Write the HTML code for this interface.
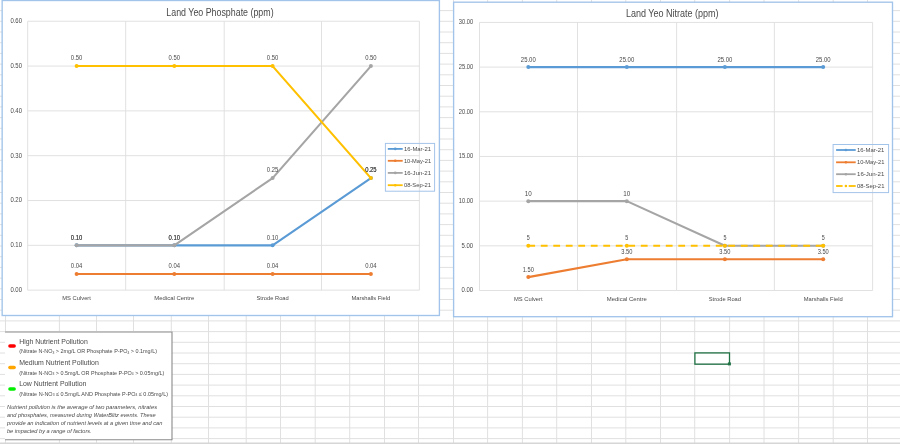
<!DOCTYPE html><html><head><meta charset="utf-8"><style>html,body{margin:0;padding:0;background:#fff;width:900px;height:444px;overflow:hidden}svg{display:block}text{font-family:"Liberation Sans",sans-serif}</style></head><body><svg style="will-change:transform" width="900" height="444" viewBox="0 0 900 444"><g stroke="#e0e0e0" stroke-width="1"><line x1="5.5" y1="0" x2="5.5" y2="443" /><line x1="59.4" y1="0" x2="59.4" y2="443" /><line x1="96.5" y1="0" x2="96.5" y2="443" /><line x1="133.5" y1="0" x2="133.5" y2="443" /><line x1="171.3" y1="0" x2="171.3" y2="443" /><line x1="208.5" y1="0" x2="208.5" y2="443" /><line x1="246.2" y1="0" x2="246.2" y2="443" /><line x1="280.5" y1="0" x2="280.5" y2="443" /><line x1="315.2" y1="0" x2="315.2" y2="443" /><line x1="349.7" y1="0" x2="349.7" y2="443" /><line x1="384.5" y1="0" x2="384.5" y2="443" /><line x1="418.5" y1="0" x2="418.5" y2="443" /><line x1="453.5" y1="0" x2="453.5" y2="443" /><line x1="487.6" y1="0" x2="487.6" y2="443" /><line x1="522.4" y1="0" x2="522.4" y2="443" /><line x1="556.7" y1="0" x2="556.7" y2="443" /><line x1="591.5" y1="0" x2="591.5" y2="443" /><line x1="625.8" y1="0" x2="625.8" y2="443" /><line x1="660.5" y1="0" x2="660.5" y2="443" /><line x1="694.7" y1="0" x2="694.7" y2="443" /><line x1="729.6" y1="0" x2="729.6" y2="443" /><line x1="764.0" y1="0" x2="764.0" y2="443" /><line x1="798.6" y1="0" x2="798.6" y2="443" /><line x1="833.2" y1="0" x2="833.2" y2="443" /><line x1="867.5" y1="0" x2="867.5" y2="443" /><line x1="0" y1="10.6" x2="900" y2="10.6" /><line x1="0" y1="21.3" x2="900" y2="21.3" /><line x1="0" y1="32.0" x2="900" y2="32.0" /><line x1="0" y1="42.7" x2="900" y2="42.7" /><line x1="0" y1="53.4" x2="900" y2="53.4" /><line x1="0" y1="64.1" x2="900" y2="64.1" /><line x1="0" y1="74.8" x2="900" y2="74.8" /><line x1="0" y1="85.5" x2="900" y2="85.5" /><line x1="0" y1="96.2" x2="900" y2="96.2" /><line x1="0" y1="106.9" x2="900" y2="106.9" /><line x1="0" y1="117.6" x2="900" y2="117.6" /><line x1="0" y1="128.3" x2="900" y2="128.3" /><line x1="0" y1="139.0" x2="900" y2="139.0" /><line x1="0" y1="149.7" x2="900" y2="149.7" /><line x1="0" y1="160.4" x2="900" y2="160.4" /><line x1="0" y1="171.1" x2="900" y2="171.1" /><line x1="0" y1="181.8" x2="900" y2="181.8" /><line x1="0" y1="192.5" x2="900" y2="192.5" /><line x1="0" y1="203.2" x2="900" y2="203.2" /><line x1="0" y1="213.9" x2="900" y2="213.9" /><line x1="0" y1="224.6" x2="900" y2="224.6" /><line x1="0" y1="235.3" x2="900" y2="235.3" /><line x1="0" y1="246.0" x2="900" y2="246.0" /><line x1="0" y1="256.7" x2="900" y2="256.7" /><line x1="0" y1="267.4" x2="900" y2="267.4" /><line x1="0" y1="278.1" x2="900" y2="278.1" /><line x1="0" y1="288.8" x2="900" y2="288.8" /><line x1="0" y1="299.5" x2="900" y2="299.5" /><line x1="0" y1="310.2" x2="900" y2="310.2" /><line x1="0" y1="320.9" x2="900" y2="320.9" /><line x1="0" y1="331.6" x2="900" y2="331.6" /><line x1="0" y1="342.3" x2="900" y2="342.3" /><line x1="0" y1="353.0" x2="900" y2="353.0" /><line x1="0" y1="363.7" x2="900" y2="363.7" /><line x1="0" y1="374.4" x2="900" y2="374.4" /><line x1="0" y1="385.1" x2="900" y2="385.1" /><line x1="0" y1="395.8" x2="900" y2="395.8" /><line x1="0" y1="406.5" x2="900" y2="406.5" /><line x1="0" y1="417.2" x2="900" y2="417.2" /><line x1="0" y1="427.9" x2="900" y2="427.9" /><line x1="0" y1="438.6" x2="900" y2="438.6" /></g><rect x="0" y="442.5" width="900" height="1.5" fill="#d6d6d6"/><rect x="2.15" y="0.5" width="437.25" height="315.00" fill="#fff" stroke="#A3C4EA" stroke-width="1.35"/><g stroke="#dedede" stroke-width="0.9"><line x1="27.7" y1="290.15" x2="419.4" y2="290.15"/><line x1="27.7" y1="245.33" x2="419.4" y2="245.33"/><line x1="27.7" y1="200.52" x2="419.4" y2="200.52"/><line x1="27.7" y1="155.70" x2="419.4" y2="155.70"/><line x1="27.7" y1="110.88" x2="419.4" y2="110.88"/><line x1="27.7" y1="66.07" x2="419.4" y2="66.07"/><line x1="27.7" y1="21.25" x2="419.4" y2="21.25"/><line x1="27.70" y1="21.25" x2="27.70" y2="290.15"/><line x1="125.70" y1="21.25" x2="125.70" y2="290.15"/><line x1="224.20" y1="21.25" x2="224.20" y2="290.15"/><line x1="321.50" y1="21.25" x2="321.50" y2="290.15"/><line x1="419.40" y1="21.25" x2="419.40" y2="290.15"/></g><text x="22.00" y="292.00" font-size="6.9" text-anchor="end" fill="#4a4a4a" textLength="11.6" lengthAdjust="spacingAndGlyphs" >0.00</text><text x="22.00" y="247.18" font-size="6.9" text-anchor="end" fill="#4a4a4a" textLength="11.6" lengthAdjust="spacingAndGlyphs" >0.10</text><text x="22.00" y="202.37" font-size="6.9" text-anchor="end" fill="#4a4a4a" textLength="11.6" lengthAdjust="spacingAndGlyphs" >0.20</text><text x="22.00" y="157.55" font-size="6.9" text-anchor="end" fill="#4a4a4a" textLength="11.6" lengthAdjust="spacingAndGlyphs" >0.30</text><text x="22.00" y="112.73" font-size="6.9" text-anchor="end" fill="#4a4a4a" textLength="11.6" lengthAdjust="spacingAndGlyphs" >0.40</text><text x="22.00" y="67.92" font-size="6.9" text-anchor="end" fill="#4a4a4a" textLength="11.6" lengthAdjust="spacingAndGlyphs" >0.50</text><text x="22.00" y="23.10" font-size="6.9" text-anchor="end" fill="#4a4a4a" textLength="11.6" lengthAdjust="spacingAndGlyphs" >0.60</text><text x="219.95" y="15.90" font-size="10.2" text-anchor="middle" fill="#4a4a4a" textLength="107.30000000000001" lengthAdjust="spacingAndGlyphs" >Land Yeo Phosphate (ppm)</text><text x="76.60" y="300.20" font-size="6.1" text-anchor="middle" fill="#4a4a4a" textLength="28.6" lengthAdjust="spacingAndGlyphs" >MS Culvert</text><text x="174.30" y="300.20" font-size="6.1" text-anchor="middle" fill="#4a4a4a" textLength="40" lengthAdjust="spacingAndGlyphs" >Medical Centre</text><text x="272.60" y="300.20" font-size="6.1" text-anchor="middle" fill="#4a4a4a" textLength="32.2" lengthAdjust="spacingAndGlyphs" >Strode Road</text><text x="370.90" y="300.20" font-size="6.1" text-anchor="middle" fill="#4a4a4a" textLength="38.9" lengthAdjust="spacingAndGlyphs" >Marshalls Field</text><polyline points="76.60,245.33 174.30,245.33 272.60,245.33 370.90,178.11" fill="none" stroke="#5B9BD5" stroke-width="2.1" stroke-linejoin="round"/><circle cx="76.60" cy="245.33" r="2" fill="#5B9BD5"/><circle cx="174.30" cy="245.33" r="2" fill="#5B9BD5"/><circle cx="272.60" cy="245.33" r="2" fill="#5B9BD5"/><circle cx="370.90" cy="178.11" r="2" fill="#5B9BD5"/><polyline points="76.60,273.93 174.30,273.93 272.60,273.93 370.90,273.93" fill="none" stroke="#ED7D31" stroke-width="2.1" stroke-linejoin="round"/><circle cx="76.60" cy="273.93" r="2" fill="#ED7D31"/><circle cx="174.30" cy="273.93" r="2" fill="#ED7D31"/><circle cx="272.60" cy="273.93" r="2" fill="#ED7D31"/><circle cx="370.90" cy="273.93" r="2" fill="#ED7D31"/><polyline points="76.60,245.33 174.30,245.33 272.60,178.11 370.90,66.07" fill="none" stroke="#A5A5A5" stroke-width="2.1" stroke-linejoin="round"/><circle cx="76.60" cy="245.33" r="2" fill="#A5A5A5"/><circle cx="174.30" cy="245.33" r="2" fill="#A5A5A5"/><circle cx="272.60" cy="178.11" r="2" fill="#A5A5A5"/><circle cx="370.90" cy="66.07" r="2" fill="#A5A5A5"/><polyline points="76.60,66.07 174.30,66.07 272.60,66.07 370.90,178.11" fill="none" stroke="#FFC000" stroke-width="2.1" stroke-linejoin="round"/><circle cx="76.60" cy="66.07" r="2" fill="#FFC000"/><circle cx="174.30" cy="66.07" r="2" fill="#FFC000"/><circle cx="272.60" cy="66.07" r="2" fill="#FFC000"/><circle cx="370.90" cy="178.11" r="2" fill="#FFC000"/><text x="76.60" y="239.63" font-size="6.3" text-anchor="middle" fill="#4a4a4a" textLength="11.5" lengthAdjust="spacingAndGlyphs" >0.10</text><text x="174.30" y="239.63" font-size="6.3" text-anchor="middle" fill="#4a4a4a" textLength="11.5" lengthAdjust="spacingAndGlyphs" >0.10</text><text x="272.60" y="239.63" font-size="6.3" text-anchor="middle" fill="#4a4a4a" textLength="11.5" lengthAdjust="spacingAndGlyphs" >0.10</text><text x="370.90" y="172.41" font-size="6.3" text-anchor="middle" fill="#4a4a4a" textLength="11.5" lengthAdjust="spacingAndGlyphs" >0.25</text><text x="76.60" y="268.23" font-size="6.3" text-anchor="middle" fill="#4a4a4a" textLength="11.5" lengthAdjust="spacingAndGlyphs" >0.04</text><text x="174.30" y="268.23" font-size="6.3" text-anchor="middle" fill="#4a4a4a" textLength="11.5" lengthAdjust="spacingAndGlyphs" >0.04</text><text x="272.60" y="268.23" font-size="6.3" text-anchor="middle" fill="#4a4a4a" textLength="11.5" lengthAdjust="spacingAndGlyphs" >0.04</text><text x="370.90" y="268.23" font-size="6.3" text-anchor="middle" fill="#4a4a4a" textLength="11.5" lengthAdjust="spacingAndGlyphs" >0.04</text><text x="76.60" y="239.63" font-size="6.3" text-anchor="middle" fill="#4a4a4a" textLength="11.5" lengthAdjust="spacingAndGlyphs" >0.10</text><text x="174.30" y="239.63" font-size="6.3" text-anchor="middle" fill="#4a4a4a" textLength="11.5" lengthAdjust="spacingAndGlyphs" >0.10</text><text x="272.60" y="172.41" font-size="6.3" text-anchor="middle" fill="#4a4a4a" textLength="11.5" lengthAdjust="spacingAndGlyphs" >0.25</text><text x="370.90" y="60.37" font-size="6.3" text-anchor="middle" fill="#4a4a4a" textLength="11.5" lengthAdjust="spacingAndGlyphs" >0.50</text><text x="76.60" y="60.37" font-size="6.3" text-anchor="middle" fill="#4a4a4a" textLength="11.5" lengthAdjust="spacingAndGlyphs" >0.50</text><text x="174.30" y="60.37" font-size="6.3" text-anchor="middle" fill="#4a4a4a" textLength="11.5" lengthAdjust="spacingAndGlyphs" >0.50</text><text x="272.60" y="60.37" font-size="6.3" text-anchor="middle" fill="#4a4a4a" textLength="11.5" lengthAdjust="spacingAndGlyphs" >0.50</text><text x="370.90" y="172.41" font-size="6.3" text-anchor="middle" fill="#4a4a4a" textLength="11.5" lengthAdjust="spacingAndGlyphs" >0.25</text><rect x="385.4" y="143.4" width="49.20" height="47.80" fill="none" stroke="#A3C4EA" stroke-width="1"/><line x1="387.8" y1="148.9" x2="402.7" y2="148.9" stroke="#5B9BD5" stroke-width="1.8"/><circle cx="395.25" cy="148.9" r="1.3" fill="#5B9BD5"/><text x="403.90" y="150.90" font-size="6.0" text-anchor="start" fill="#4a4a4a" textLength="27.2" lengthAdjust="spacingAndGlyphs" >16-Mar-21</text><line x1="387.8" y1="160.8" x2="402.7" y2="160.8" stroke="#ED7D31" stroke-width="1.8"/><circle cx="395.25" cy="160.8" r="1.3" fill="#ED7D31"/><text x="403.90" y="162.80" font-size="6.0" text-anchor="start" fill="#4a4a4a" textLength="27.2" lengthAdjust="spacingAndGlyphs" >10-May-21</text><line x1="387.8" y1="172.9" x2="402.7" y2="172.9" stroke="#A5A5A5" stroke-width="1.8"/><circle cx="395.25" cy="172.9" r="1.3" fill="#A5A5A5"/><text x="403.90" y="174.90" font-size="6.0" text-anchor="start" fill="#4a4a4a" textLength="27.2" lengthAdjust="spacingAndGlyphs" >16-Jun-21</text><line x1="387.8" y1="185.2" x2="402.7" y2="185.2" stroke="#FFC000" stroke-width="1.8"/><circle cx="395.25" cy="185.2" r="1.3" fill="#FFC000"/><text x="403.90" y="187.20" font-size="6.0" text-anchor="start" fill="#4a4a4a" textLength="27.2" lengthAdjust="spacingAndGlyphs" >08-Sep-21</text><rect x="453.6" y="2.2" width="438.90" height="314.50" fill="#fff" stroke="#A3C4EA" stroke-width="1.35"/><g stroke="#dedede" stroke-width="0.9"><line x1="479.5" y1="290.50" x2="872.6" y2="290.50"/><line x1="479.5" y1="245.82" x2="872.6" y2="245.82"/><line x1="479.5" y1="201.15" x2="872.6" y2="201.15"/><line x1="479.5" y1="156.47" x2="872.6" y2="156.47"/><line x1="479.5" y1="111.80" x2="872.6" y2="111.80"/><line x1="479.5" y1="67.12" x2="872.6" y2="67.12"/><line x1="479.5" y1="22.45" x2="872.6" y2="22.45"/><line x1="479.50" y1="22.45" x2="479.50" y2="290.5"/><line x1="577.50" y1="22.45" x2="577.50" y2="290.5"/><line x1="676.60" y1="22.45" x2="676.60" y2="290.5"/><line x1="774.40" y1="22.45" x2="774.40" y2="290.5"/><line x1="872.60" y1="22.45" x2="872.60" y2="290.5"/></g><text x="473.20" y="292.35" font-size="6.9" text-anchor="end" fill="#4a4a4a" textLength="11.6" lengthAdjust="spacingAndGlyphs" >0.00</text><text x="473.20" y="247.67" font-size="6.9" text-anchor="end" fill="#4a4a4a" textLength="11.6" lengthAdjust="spacingAndGlyphs" >5.00</text><text x="473.20" y="203.00" font-size="6.9" text-anchor="end" fill="#4a4a4a" textLength="14.4" lengthAdjust="spacingAndGlyphs" >10.00</text><text x="473.20" y="158.32" font-size="6.9" text-anchor="end" fill="#4a4a4a" textLength="14.4" lengthAdjust="spacingAndGlyphs" >15.00</text><text x="473.20" y="113.65" font-size="6.9" text-anchor="end" fill="#4a4a4a" textLength="14.4" lengthAdjust="spacingAndGlyphs" >20.00</text><text x="473.20" y="68.97" font-size="6.9" text-anchor="end" fill="#4a4a4a" textLength="14.4" lengthAdjust="spacingAndGlyphs" >25.00</text><text x="473.20" y="24.30" font-size="6.9" text-anchor="end" fill="#4a4a4a" textLength="14.4" lengthAdjust="spacingAndGlyphs" >30.00</text><text x="672.25" y="16.80" font-size="10.2" text-anchor="middle" fill="#4a4a4a" textLength="92.70000000000005" lengthAdjust="spacingAndGlyphs" >Land Yeo Nitrate (ppm)</text><text x="528.30" y="300.90" font-size="6.1" text-anchor="middle" fill="#4a4a4a" textLength="28.6" lengthAdjust="spacingAndGlyphs" >MS Culvert</text><text x="626.80" y="300.90" font-size="6.1" text-anchor="middle" fill="#4a4a4a" textLength="40" lengthAdjust="spacingAndGlyphs" >Medical Centre</text><text x="724.90" y="300.90" font-size="6.1" text-anchor="middle" fill="#4a4a4a" textLength="32.2" lengthAdjust="spacingAndGlyphs" >Strode Road</text><text x="823.20" y="300.90" font-size="6.1" text-anchor="middle" fill="#4a4a4a" textLength="38.9" lengthAdjust="spacingAndGlyphs" >Marshalls Field</text><polyline points="528.30,67.12 626.80,67.12 724.90,67.12 823.20,67.12" fill="none" stroke="#5B9BD5" stroke-width="2.1" stroke-linejoin="round"/><circle cx="528.30" cy="67.12" r="2" fill="#5B9BD5"/><circle cx="626.80" cy="67.12" r="2" fill="#5B9BD5"/><circle cx="724.90" cy="67.12" r="2" fill="#5B9BD5"/><circle cx="823.20" cy="67.12" r="2" fill="#5B9BD5"/><polyline points="528.30,277.10 626.80,259.23 724.90,259.23 823.20,259.23" fill="none" stroke="#ED7D31" stroke-width="2.1" stroke-linejoin="round"/><circle cx="528.30" cy="277.10" r="2" fill="#ED7D31"/><circle cx="626.80" cy="259.23" r="2" fill="#ED7D31"/><circle cx="724.90" cy="259.23" r="2" fill="#ED7D31"/><circle cx="823.20" cy="259.23" r="2" fill="#ED7D31"/><polyline points="528.30,201.15 626.80,201.15 724.90,245.82 823.20,245.82" fill="none" stroke="#A5A5A5" stroke-width="2.1" stroke-linejoin="round"/><circle cx="528.30" cy="201.15" r="2" fill="#A5A5A5"/><circle cx="626.80" cy="201.15" r="2" fill="#A5A5A5"/><circle cx="724.90" cy="245.82" r="2" fill="#A5A5A5"/><circle cx="823.20" cy="245.82" r="2" fill="#A5A5A5"/><polyline points="528.30,245.82 626.80,245.82 724.90,245.82 823.20,245.82" fill="none" stroke="#FFC000" stroke-width="2.1" stroke-linejoin="round" stroke-dasharray="6.8,5.7"/><circle cx="528.30" cy="245.82" r="2" fill="#FFC000"/><circle cx="626.80" cy="245.82" r="2" fill="#FFC000"/><circle cx="724.90" cy="245.82" r="2" fill="#FFC000"/><circle cx="823.20" cy="245.82" r="2" fill="#FFC000"/><text x="528.30" y="61.52" font-size="6.3" text-anchor="middle" fill="#4a4a4a" textLength="14.9" lengthAdjust="spacingAndGlyphs" >25.00</text><text x="626.80" y="61.52" font-size="6.3" text-anchor="middle" fill="#4a4a4a" textLength="14.9" lengthAdjust="spacingAndGlyphs" >25.00</text><text x="724.90" y="61.52" font-size="6.3" text-anchor="middle" fill="#4a4a4a" textLength="14.9" lengthAdjust="spacingAndGlyphs" >25.00</text><text x="823.20" y="61.52" font-size="6.3" text-anchor="middle" fill="#4a4a4a" textLength="14.9" lengthAdjust="spacingAndGlyphs" >25.00</text><text x="528.30" y="271.50" font-size="6.3" text-anchor="middle" fill="#4a4a4a" textLength="11.1" lengthAdjust="spacingAndGlyphs" >1.50</text><text x="626.80" y="253.63" font-size="6.3" text-anchor="middle" fill="#4a4a4a" textLength="11.1" lengthAdjust="spacingAndGlyphs" >3.50</text><text x="724.90" y="253.63" font-size="6.3" text-anchor="middle" fill="#4a4a4a" textLength="11.1" lengthAdjust="spacingAndGlyphs" >3.50</text><text x="823.20" y="253.63" font-size="6.3" text-anchor="middle" fill="#4a4a4a" textLength="11.1" lengthAdjust="spacingAndGlyphs" >3.50</text><text x="528.30" y="195.55" font-size="6.3" text-anchor="middle" fill="#4a4a4a" textLength="7.0" lengthAdjust="spacingAndGlyphs" >10</text><text x="626.80" y="195.55" font-size="6.3" text-anchor="middle" fill="#4a4a4a" textLength="7.0" lengthAdjust="spacingAndGlyphs" >10</text><text x="528.30" y="240.22" font-size="6.3" text-anchor="middle" fill="#4a4a4a" textLength="3.0" lengthAdjust="spacingAndGlyphs" >5</text><text x="626.80" y="240.22" font-size="6.3" text-anchor="middle" fill="#4a4a4a" textLength="3.0" lengthAdjust="spacingAndGlyphs" >5</text><text x="724.90" y="240.22" font-size="6.3" text-anchor="middle" fill="#4a4a4a" textLength="3.0" lengthAdjust="spacingAndGlyphs" >5</text><text x="823.20" y="240.22" font-size="6.3" text-anchor="middle" fill="#4a4a4a" textLength="3.0" lengthAdjust="spacingAndGlyphs" >5</text><rect x="833.1" y="144.5" width="55.50" height="48.10" fill="none" stroke="#A3C4EA" stroke-width="1"/><line x1="836.1" y1="150" x2="855.7" y2="150" stroke="#5B9BD5" stroke-width="1.8"/><circle cx="845.9000000000001" cy="150" r="1.3" fill="#5B9BD5"/><text x="857.00" y="152.00" font-size="6.0" text-anchor="start" fill="#4a4a4a" textLength="27.4" lengthAdjust="spacingAndGlyphs" >16-Mar-21</text><line x1="836.1" y1="162.3" x2="855.7" y2="162.3" stroke="#ED7D31" stroke-width="1.8"/><circle cx="845.9000000000001" cy="162.3" r="1.3" fill="#ED7D31"/><text x="857.00" y="164.30" font-size="6.0" text-anchor="start" fill="#4a4a4a" textLength="27.4" lengthAdjust="spacingAndGlyphs" >10-May-21</text><line x1="836.1" y1="174.2" x2="855.7" y2="174.2" stroke="#A5A5A5" stroke-width="1.8"/><circle cx="845.9000000000001" cy="174.2" r="1.3" fill="#A5A5A5"/><text x="857.00" y="176.20" font-size="6.0" text-anchor="start" fill="#4a4a4a" textLength="27.4" lengthAdjust="spacingAndGlyphs" >16-Jun-21</text><line x1="836.1" y1="186" x2="842.6" y2="186" stroke="#FFC000" stroke-width="1.8"/><line x1="848.7" y1="186" x2="855.7" y2="186" stroke="#FFC000" stroke-width="1.8"/><circle cx="845.9000000000001" cy="186" r="1.3" fill="#FFC000"/><text x="857.00" y="188.00" font-size="6.0" text-anchor="start" fill="#4a4a4a" textLength="27.4" lengthAdjust="spacingAndGlyphs" >08-Sep-21</text><rect x="5" y="331.5" width="167" height="108.4" fill="#fff"/><path d="M5,332 H172 V439.7 H5" fill="none" stroke="#8a8a8a" stroke-width="1.1"/><line x1="10" y1="346" x2="14.1" y2="346" stroke="#FF0000" stroke-width="3.6" stroke-linecap="round"/><line x1="10" y1="367.5" x2="14.1" y2="367.5" stroke="#FFA500" stroke-width="3.6" stroke-linecap="round"/><line x1="10" y1="389" x2="14.1" y2="389" stroke="#00F000" stroke-width="3.6" stroke-linecap="round"/><text x="19.20" y="343.50" font-size="7.5" text-anchor="start" fill="#4a4a4a" textLength="68.6" lengthAdjust="spacingAndGlyphs" >High Nutrient Pollution</text><text x="19.20" y="353.00" font-size="5.7" text-anchor="start" fill="#4a4a4a" textLength="137.8" lengthAdjust="spacingAndGlyphs" >(Nitrate N-NO<tspan font-size='3.5' dy='0.5'>3</tspan><tspan dy='-0.5'> &gt; 2mg/L OR Phosphate P-PO</tspan><tspan font-size='3.5' dy='0.5'>4</tspan><tspan dy='-0.5'> &gt; 0.1mg/L)</tspan></text><text x="19.20" y="365.00" font-size="7.5" text-anchor="start" fill="#4a4a4a" textLength="79.6" lengthAdjust="spacingAndGlyphs" >Medium Nutrient Pollution</text><text x="19.20" y="374.50" font-size="5.7" text-anchor="start" fill="#4a4a4a" textLength="145.1" lengthAdjust="spacingAndGlyphs" >(Nitrate N-NO<tspan font-size='3.5' dy='0.5'>3</tspan><tspan dy='-0.5'> &gt; 0.5mg/L OR Phosphate P-PO</tspan><tspan font-size='3.5' dy='0.5'>4</tspan><tspan dy='-0.5'> &gt; 0.05mg/L)</tspan></text><text x="19.20" y="386.20" font-size="7.5" text-anchor="start" fill="#4a4a4a" textLength="67.2" lengthAdjust="spacingAndGlyphs" >Low Nutrient Pollution</text><text x="19.20" y="395.80" font-size="5.7" text-anchor="start" fill="#4a4a4a" textLength="148.8" lengthAdjust="spacingAndGlyphs" >(Nitrate N-NO<tspan font-size='3.5' dy='0.5'>3</tspan><tspan dy='-0.5'> ≤ 0.5mg/L AND Phosphate P-PO</tspan><tspan font-size='3.5' dy='0.5'>4</tspan><tspan dy='-0.5'> ≤ 0.05mg/L)</tspan></text><text x="7.00" y="409.00" font-size="5.6" text-anchor="start" fill="#4a4a4a" textLength="150" lengthAdjust="spacingAndGlyphs" font-style="italic">Nutrient pollution is the average of two parameters, nitrates</text><text x="7.00" y="417.00" font-size="5.6" text-anchor="start" fill="#4a4a4a" textLength="148.6" lengthAdjust="spacingAndGlyphs" font-style="italic">and phosphates, measured during WaterBlitz events. These</text><text x="7.00" y="425.00" font-size="5.6" text-anchor="start" fill="#4a4a4a" textLength="155.4" lengthAdjust="spacingAndGlyphs" font-style="italic">provide an indication of nutrient levels at a given time and can</text><text x="7.00" y="432.60" font-size="5.6" text-anchor="start" fill="#4a4a4a" textLength="84.6" lengthAdjust="spacingAndGlyphs" font-style="italic">be impacted by a range of factors.</text><rect x="694.9" y="352.9" width="34.6" height="11.3" fill="none" stroke="#217346" stroke-width="1.3"/><rect x="727.9" y="362.4" width="3" height="3" fill="#217346"/></svg></body></html>
